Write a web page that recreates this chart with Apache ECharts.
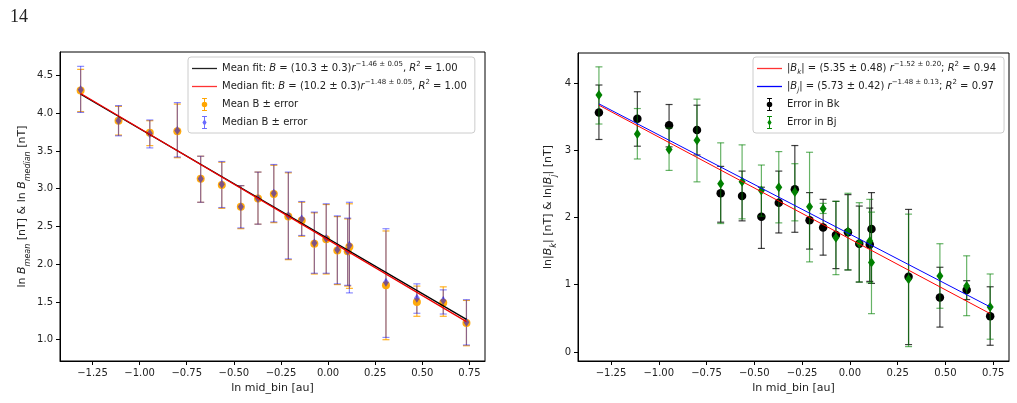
<!DOCTYPE html>
<html>
<head>
<meta charset="utf-8">
<script src="https://cdn.jsdelivr.net/npm/echarts@6/dist/echarts.min.js"></script>
<style>
  html, body { margin: 0; padding: 0; background: #fff; }
  #chart-container { width: 1017px; height: 403px; }
</style>
</head>
<body>
<div id="chart-container"></div>
<script>
// bin centres (ln mid_bin), shared by both panels
var binX = [-1.313, -1.112, -0.946, -0.800, -0.676, -0.564, -0.463, -0.372, -0.288, -0.211,
            -0.140, -0.073, -0.010, 0.049, 0.104, 0.113, 0.307, 0.471, 0.611, 0.734];

// left panel: mean / median with error bounds
var meanB    = [4.30, 3.90, 3.74, 3.76, 3.13, 3.05, 2.76, 2.87, 2.93, 2.63, 2.58, 2.27, 2.33, 2.18, 2.17, 2.23, 1.72, 1.50, 1.49, 1.22];
var meanLo   = [4.02, 3.71, 3.57, 3.41, 2.82, 2.74, 2.47, 2.53, 2.55, 2.06, 2.37, 1.87, 1.87, 1.73, 1.71, 1.68, 1.00, 1.31, 1.31, 0.92];
var meanHi   = [4.58, 4.09, 3.90, 4.12, 3.43, 3.35, 3.04, 3.22, 3.31, 3.21, 2.82, 2.68, 2.79, 2.63, 2.60, 2.80, 2.44, 1.71, 1.70, 1.52];
var medianB  = [4.31, 3.90, 3.73, 3.77, 3.13, 3.06, 2.76, 2.87, 2.94, 2.64, 2.60, 2.28, 2.34, 2.19, 2.17, 2.25, 1.76, 1.55, 1.52, 1.23];
var medianLo = [4.01, 3.70, 3.54, 3.42, 2.82, 2.75, 2.48, 2.53, 2.56, 2.07, 2.38, 1.88, 1.88, 1.74, 1.72, 1.62, 1.03, 1.35, 1.34, 0.93];
var medianHi = [4.62, 4.10, 3.91, 4.14, 3.43, 3.36, 3.04, 3.22, 3.32, 3.22, 2.83, 2.69, 2.80, 2.64, 2.61, 2.82, 2.47, 1.74, 1.66, 1.53];

// right panel: |Bk| and |Bj| with error bounds
var bkVal = [3.56, 3.47, 3.37, 3.30, 2.36, 2.32, 2.01, 2.22, 2.42, 1.96, 1.85, 1.74, 1.78, 1.61, 1.60, 1.83, 1.12, 0.81, 0.92, 0.53];
var bkLo  = [3.16, 3.06, 3.05, 2.93, 1.93, 1.95, 1.54, 1.77, 1.78, 1.53, 1.44, 1.24, 1.22, 1.04, 1.05, 1.02, 0.11, 0.37, 0.78, 0.10];
var bkHi  = [3.97, 3.87, 3.68, 3.67, 2.76, 2.69, 2.45, 2.69, 3.07, 2.37, 2.27, 2.24, 2.34, 2.17, 2.14, 2.37, 2.12, 1.26, 1.06, 0.97];
var bjVal = [3.82, 3.24, 3.01, 3.15, 2.50, 2.53, 2.40, 2.45, 2.38, 2.16, 2.13, 1.70, 1.79, 1.62, 1.65, 1.33, 1.08, 1.13, 0.98, 0.67];
var bjLo  = [3.39, 2.87, 2.70, 2.53, 1.91, 1.98, 2.02, 1.92, 1.95, 1.34, 2.06, 1.15, 1.22, 1.04, 1.03, 0.57, 0.08, 0.65, 0.54, 0.19];
var bjHi  = [4.24, 3.62, 3.33, 3.76, 3.11, 3.08, 2.78, 2.98, 2.80, 2.97, 2.21, 2.24, 2.36, 2.22, 2.27, 2.08, 2.05, 1.61, 1.43, 1.16];

// fitted lines, end points
var fitX       = [-1.313, 0.734];
var meanFitY   = [4.25, 1.27];
var medianFitY = [4.26, 1.24];
var bkFitY     = [3.67, 0.57];
var bjFitY     = [3.69, 0.67];

// tick labels
var xTicks      = [-1.25, -1.0, -0.75, -0.5, -0.25, 0, 0.25, 0.5, 0.75];
var yTicksLeft  = [1.0, 1.5, 2.0, 2.5, 3.0, 3.5, 4.0, 4.5];
var yTicksRight = [0, 1, 2, 3, 4];

var FONT = "DejaVu Sans";
var TXT = "#222";

function pairs(xs, ys) {
  return xs.map(function (x, i) { return [x, ys[i]]; });
}
function triples(xs, lo, hi) {
  return xs.map(function (x, i) { return [x, lo[i], hi[i]]; });
}
function minus(s) { return s.replace("-", "\u2212"); }

function errorBars(color, opacity, cap) {
  return function (params, api) {
    var x = api.value(0);
    var top = api.coord([x, api.value(2)]);
    var bot = api.coord([x, api.value(1)]);
    var st = { stroke: color, lineWidth: 1.2, opacity: opacity };
    return {
      type: "group",
      children: [
        { type: "line", shape: { x1: top[0], y1: top[1], x2: bot[0], y2: bot[1] }, style: st },
        { type: "line", shape: { x1: top[0] - cap, y1: top[1], x2: top[0] + cap, y2: top[1] }, style: st },
        { type: "line", shape: { x1: bot[0] - cap, y1: bot[1], x2: bot[0] + cap, y2: bot[1] }, style: st }
      ]
    };
  };
}

var rich = {
  i:   { fontFamily: FONT, fontSize: 10, fontStyle: "italic", color: TXT, lineHeight: 15 },
  sup: { fontFamily: FONT, fontSize: 7, color: TXT, verticalAlign: "top", lineHeight: 8 },
  sub: { fontFamily: FONT, fontSize: 7, color: TXT, verticalAlign: "bottom", lineHeight: 8 },
  isub:{ fontFamily: FONT, fontSize: 7, fontStyle: "italic", color: TXT, verticalAlign: "bottom", lineHeight: 8 }
};
var axisRich = {
  i:    { fontFamily: FONT, fontSize: 11, fontStyle: "italic", color: TXT },
  isub: { fontFamily: FONT, fontSize: 8, fontStyle: "italic", color: TXT, verticalAlign: "bottom", padding: [0, 0, -4, 0] }
};

var labels = {
  meanFit:   "Mean fit: {i|B} = (10.3 \u00b1 0.3){i|r}{sup|\u22121.46 \u00b1 0.05}, {i|R}{sup|2} = 1.00",
  medianFit: "Median fit: {i|B} = (10.2 \u00b1 0.3){i|r}{sup|\u22121.48 \u00b1 0.05}, {i|R}{sup|2} = 1.00",
  meanErr:   "Mean B \u00b1 error",
  medianErr: "Median B \u00b1 error",
  bkFit:     "|{i|B}{isub|k}| = (5.35 \u00b1 0.48) {i|r}{sup|\u22121.52 \u00b1 0.20}; {i|R}{sup|2} = 0.94",
  bjFit:     "|{i|B}{isub|j}| = (5.73 \u00b1 0.42) {i|r}{sup|\u22121.48 \u00b1 0.13}; {i|R}{sup|2} = 0.97",
  bkErr:     "Error in Bk",
  bjErr:     "Error in Bj"
};

var lineIcon = "path://M0,0 H25 V1.3 H0 Z";
var circleErrIcon = "path://M2,0 H8 V1.2 H2 Z M4.4,0 H5.6 V16 H4.4 Z M2,14.8 H8 V16 H2 Z M8.4,8 A3.4,3.4 0 1 1 1.6,8 A3.4,3.4 0 1 1 8.4,8 Z";
var diamondErrIcon = "path://M2,0 H8 V1.2 H2 Z M4.4,0 H5.6 V16 H4.4 Z M2,14.8 H8 V16 H2 Z M5,4 L7.6,8 L5,12 L2.4,8 Z";

function legendBox(left, top, items) {
  return {
    orient: "vertical",
    left: left, top: top,
    padding: [4, 8, 3, 4],
    itemGap: 3,
    itemWidth: 25, itemHeight: 13,
    backgroundColor: "rgba(255,255,255,0.85)",
    borderColor: "#ccc", borderWidth: 1, borderRadius: 3,
    selectedMode: false,
    textStyle: { fontFamily: FONT, fontSize: 10, color: TXT, lineHeight: 15, rich: rich },
    formatter: function (name) { return labels[name]; },
    data: items
  };
}

function xAxisFor(gridIndex) {
  return {
    type: "value", gridIndex: gridIndex,
    min: -1.4225, max: 0.8325,
    name: "ln mid_bin [au]", nameLocation: "middle", nameGap: 22,
    nameTextStyle: { fontFamily: FONT, fontSize: 11, color: TXT },
    axisLine: { onZero: false, lineStyle: { color: "#000", width: 1 } },
    axisTick: { length: 4, lineStyle: { color: "#000" }, customValues: xTicks },
    axisLabel: {
      fontFamily: FONT, fontSize: 10, color: TXT, margin: 7, customValues: xTicks,
      formatter: function (v) { return minus(v.toFixed(2)); }
    },
    splitLine: { show: false }
  };
}

var chart = echarts.init(document.getElementById("chart-container"), null, { renderer: "canvas" });

var option = {
  animation: false,
  backgroundColor: "#fff",
  title: {
    text: "14", left: 5, top: 3,
    textStyle: { fontFamily: "Liberation Serif", fontSize: 18, fontWeight: "normal", color: "#222" }
  },
  grid: [
    { left: 60, top: 52, width: 425, height: 309, show: true, borderColor: "#000", borderWidth: 1 },
    { left: 578, top: 53, width: 431, height: 308, show: true, borderColor: "#000", borderWidth: 1 }
  ],
  xAxis: [xAxisFor(0), xAxisFor(1)],
  yAxis: [
    {
      type: "value", gridIndex: 0, min: 0.718, max: 4.81,
      name: "ln {i|B}{isub|mean} [nT] & ln {i|B}{isub|median} [nT]",
      nameLocation: "middle", nameGap: 32, nameRotate: 90,
      nameTextStyle: { fontFamily: FONT, fontSize: 11, color: TXT, rich: axisRich },
      axisLine: { onZero: false, lineStyle: { color: "#000", width: 1 } },
      axisTick: { length: 4, lineStyle: { color: "#000" }, customValues: yTicksLeft },
      axisLabel: {
        fontFamily: FONT, fontSize: 10, color: TXT, margin: 7, customValues: yTicksLeft,
        formatter: function (v) { return v.toFixed(1); }
      },
      splitLine: { show: false }
    },
    {
      type: "value", gridIndex: 1, min: -0.134, max: 4.446,
      name: "ln|{i|B}{isub|k}| [nT] & ln|{i|B}{isub|j}| [nT]",
      nameLocation: "middle", nameGap: 24, nameRotate: 90,
      nameTextStyle: { fontFamily: FONT, fontSize: 11, color: TXT, rich: axisRich },
      axisLine: { onZero: false, lineStyle: { color: "#000", width: 1 } },
      axisTick: { length: 4, lineStyle: { color: "#000" }, customValues: yTicksRight },
      axisLabel: {
        fontFamily: FONT, fontSize: 10, color: TXT, margin: 7, customValues: yTicksRight,
        formatter: function (v) { return String(v); }
      },
      splitLine: { show: false }
    }
  ],
  legend: [
    legendBox(188, 57, [
      { name: "meanFit", icon: lineIcon, itemStyle: { color: "#222" } },
      { name: "medianFit", icon: lineIcon, itemStyle: { color: "#f33" } },
      { name: "meanErr", icon: circleErrIcon, itemStyle: { color: "#ffa500" } },
      { name: "medianErr", icon: diamondErrIcon, itemStyle: { color: "#6a6aff" } }
    ]),
    legendBox(753, 57, [
      { name: "bkFit", icon: lineIcon, itemStyle: { color: "#f33" } },
      { name: "bjFit", icon: lineIcon, itemStyle: { color: "#00f" } },
      { name: "bkErr", icon: circleErrIcon, itemStyle: { color: "#000" } },
      { name: "bjErr", icon: diamondErrIcon, itemStyle: { color: "#080" } }
    ])
  ],
  series: [
    // ---- left panel ----
    {
      name: "meanErr", type: "custom", xAxisIndex: 0, yAxisIndex: 0, z: 2,
      renderItem: errorBars("#ffa500", 0.85, 3.5),
      encode: { x: 0, y: [1, 2] },
      itemStyle: { color: "#ffa500" },
      data: triples(binX, meanLo, meanHi)
    },
    {
      name: "medianErr", type: "custom", xAxisIndex: 0, yAxisIndex: 0, z: 3,
      renderItem: errorBars("#0000ff", 0.45, 3.5),
      encode: { x: 0, y: [1, 2] },
      itemStyle: { color: "#6a6aff" },
      data: triples(binX, medianLo, medianHi)
    },
    {
      name: "meanErr", type: "scatter", xAxisIndex: 0, yAxisIndex: 0, z: 4,
      symbol: "circle", symbolSize: 8,
      itemStyle: { color: "#ffa500", opacity: 0.95 },
      data: pairs(binX, meanB)
    },
    {
      name: "medianErr", type: "scatter", xAxisIndex: 0, yAxisIndex: 0, z: 5,
      symbol: "diamond", symbolSize: [6, 9],
      itemStyle: { color: "#0000ff", opacity: 0.5 },
      data: pairs(binX, medianB)
    },
    {
      name: "meanFit", type: "line", xAxisIndex: 0, yAxisIndex: 0, z: 6,
      symbol: "none", lineStyle: { color: "#000", width: 1.3 },
      data: pairs(fitX, meanFitY)
    },
    {
      name: "medianFit", type: "line", xAxisIndex: 0, yAxisIndex: 0, z: 7,
      symbol: "none", lineStyle: { color: "#e00", width: 1.3 },
      data: pairs(fitX, medianFitY)
    },
    // ---- right panel ----
    {
      name: "bkErr", type: "custom", xAxisIndex: 1, yAxisIndex: 1, z: 2,
      renderItem: errorBars("#000", 0.75, 3.5),
      encode: { x: 0, y: [1, 2] },
      itemStyle: { color: "#000" },
      data: triples(binX, bkLo, bkHi)
    },
    {
      name: "bkErr", type: "scatter", xAxisIndex: 1, yAxisIndex: 1, z: 3,
      symbol: "circle", symbolSize: 8.5,
      itemStyle: { color: "#000", opacity: 1 },
      data: pairs(binX, bkVal)
    },
    {
      name: "bjErr", type: "custom", xAxisIndex: 1, yAxisIndex: 1, z: 4,
      renderItem: errorBars("#008000", 0.6, 3.5),
      encode: { x: 0, y: [1, 2] },
      itemStyle: { color: "#080" },
      data: triples(binX, bjLo, bjHi)
    },
    {
      name: "bjErr", type: "scatter", xAxisIndex: 1, yAxisIndex: 1, z: 5,
      symbol: "diamond", symbolSize: [7, 10],
      itemStyle: { color: "#008000", opacity: 1 },
      data: pairs(binX, bjVal)
    },
    {
      name: "bkFit", type: "line", xAxisIndex: 1, yAxisIndex: 1, z: 6,
      symbol: "none", lineStyle: { color: "#f00", width: 1 },
      data: pairs(fitX, bkFitY)
    },
    {
      name: "bjFit", type: "line", xAxisIndex: 1, yAxisIndex: 1, z: 7,
      symbol: "none", lineStyle: { color: "#00f", width: 1 },
      data: pairs(fitX, bjFitY)
    }
  ]
};

chart.setOption(option);
window.addEventListener("resize", chart.resize);
</script>
</body>
</html>
